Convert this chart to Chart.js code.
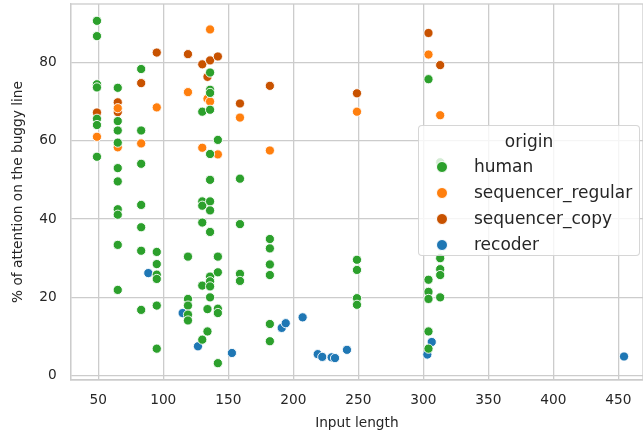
<!DOCTYPE html>
<html>
<head>
<meta charset="utf-8">
<script src="https://cdn.jsdelivr.net/npm/chart.js@4.4.1/dist/chart.umd.min.js"></script>
<style>
  html, body { margin: 0; padding: 0; background: #ffffff; }
  #wrap { position: relative; width: 643px; height: 436px; }
  #c { position: absolute; left: 0; top: 0; }
  #legend {
    position: absolute; left: 418px; top: 125px; width: 222px; height: 131px;
    box-sizing: border-box; border: 1px solid rgba(204,204,204,0.8); border-radius: 4px;
    background: rgba(255,255,255,0.8); font-family: "DejaVu Sans", sans-serif; color: #262626;
  }
  #legend .title { position: absolute; left: 0; width: 100%; top: 5px; text-align: center; font-size: 17px; line-height: 20px; }
  #legend .row { position: absolute; left: 0; height: 20px; font-size: 17px; line-height: 20px; }
  #legend .dot { position: absolute; left: 17px; top: 4px; width: 12px; height: 12px; border-radius: 50%; border: 0.8px solid #fff; box-sizing: border-box; }
  #legend .lab { position: absolute; left: 55px; top: -1px; white-space: nowrap; }
</style>
</head>
<body>
<div id="wrap">
  <canvas id="c" width="643" height="436"></canvas>
  <div id="legend"></div>
</div>
<script>
// ---- data ----
const seriesNames = ["human", "sequencer_regular", "sequencer_copy", "recoder"];
const seriesColors = ["#2ca02c", "#ff7f0e", "#c85200", "#1f77b4"];

const humanX = [49,49,49,49,49,49,49,
  65,65,65,65,65,65,65,65,65,65,
  83,83,83,83,83,83,83,
  95,95,95,95,95,95,
  119,119,119,119,119,
  130,130,130,130,130,130,
  134,134,
  136,136,136,136,136,136,136,136,136,136,136,136,136,
  142,142,142,142,142,142,
  159,159,159,159,
  182,182,182,182,182,182,
  249,249,249,249,
  304,304,304,304,304,304,
  313,313,313,313,313];
const humanY = [90.6,86.7,74.4,73.6,65.6,64.0,55.9,
  73.5,65.0,62.6,59.5,53.0,49.6,42.5,41.1,33.4,21.9,
  78.3,62.6,54.1,43.6,37.9,31.9,16.8,
  31.6,28.5,25.8,24.7,17.9,6.9,
  30.4,19.6,17.9,15.6,14.1,
  67.4,44.5,43.4,39.1,23.0,9.2,
  17.0,11.3,
  77.4,73.0,72.2,67.9,56.6,50.0,44.5,42.2,36.7,25.3,24.1,22.8,20.0,
  60.2,30.4,26.4,17.1,16.0,3.2,
  50.3,38.7,26.0,24.2,
  34.9,32.5,28.4,25.7,13.2,8.8,
  29.6,27.0,19.8,18.1,
  75.7,24.5,21.4,19.6,11.3,6.9,
  54.5,30.0,27.2,25.7,20.0];

const regularX = [49,65,65,83,95,119,130,134,136,136,142,159,182,249,304,313];
const regularY = [61.0,68.3,58.3,59.3,68.5,72.4,58.2,70.7,88.4,70.0,56.5,65.9,57.5,67.4,82.0,66.5];

const copyX = [49,65,65,83,95,119,130,134,136,142,159,182,249,304,313];
const copyY = [67.2,69.8,67.3,74.7,82.5,82.1,79.5,76.3,80.5,81.5,69.5,74.0,72.1,87.5,79.3];

const recoderX = [88.5,114.9,126.7,152.8,191.1,194.2,207.2,218.8,222.3,229.5,232.1,241.3,303.1,306.5,454.4];
const recoderY = [26.2,16.0,7.5,5.8,12.2,13.4,14.9,5.5,4.8,4.7,4.5,6.6,5.4,8.6,4.9];

const xTicks = [50,100,150,200,250,300,350,400,450];
const yTicks = [0,20,40,60,80];
const xTitle = "Input length";
const yTitle = "% of attention on the buggy line";
const legendTitle = "origin";

// ---- build chart ----
function pts(xs, ys) { return xs.map((x, i) => ({ x: x, y: ys[i] })); }
const seriesData = [pts(humanX, humanY), pts(regularX, regularY), pts(copyX, copyY), pts(recoderX, recoderY)];
const drawOrder = [0, 3, 1, 2];

const datasets = drawOrder.map(i => ({
  label: seriesNames[i],
  data: seriesData[i],
  backgroundColor: seriesColors[i],
  borderColor: "#ffffff",
  borderWidth: 0.9,
  pointRadius: 4.6,
  pointHoverRadius: 4.6,
  clip: false
}));

const GRID = "#cccccc";
const TEXT = "#262626";
const FONT = "DejaVu Sans";

const framePlugin = {
  id: "frame",
  beforeDatasetsDraw(chart) {
    const a = chart.chartArea, ctx = chart.ctx;
    ctx.save();
    ctx.strokeStyle = GRID;
    ctx.lineWidth = 1.3;
    ctx.strokeRect(a.left, a.top, a.right - a.left, a.bottom - a.top);
    ctx.restore();
  }
};

function zeroPad(s) { s.paddingTop = 0; s.paddingBottom = 0; s.paddingLeft = 0; s.paddingRight = 0; }

new Chart(document.getElementById("c"), {
  type: "scatter",
  data: { datasets: datasets },
  options: {
    responsive: false,
    animation: false,
    devicePixelRatio: 1,
    layout: { autoPadding: false, padding: { top: 4, right: 0, left: 0, bottom: 0 } },
    plugins: { legend: { display: false }, tooltip: { enabled: false } },
    scales: {
      x: {
        type: "linear",
        min: 28.8, max: 469,
        afterBuildTicks(s) { s.ticks = xTicks.map(v => ({ value: v })); },
        afterFit(s) { s.height = 56; zeroPad(s); },
        grid: { color: GRID, lineWidth: 1.3, drawTicks: false },
        border: { color: GRID, width: 1.3 },
        ticks: { color: TEXT, font: { family: FONT, size: 13.7 }, padding: 12, maxRotation: 0, autoSkip: false },
        title: { display: true, text: xTitle, color: TEXT, font: { family: FONT, size: 13.7 }, padding: { top: 0, bottom: 4 } }
      },
      y: {
        type: "linear",
        min: -1.1, max: 94.9,
        afterBuildTicks(s) { s.ticks = yTicks.map(v => ({ value: v })); },
        afterFit(s) { s.width = 70.7; zeroPad(s); },
        grid: { color: GRID, lineWidth: 1.3, drawTicks: false },
        border: { color: GRID, width: 1.3 },
        ticks: { color: TEXT, font: { family: FONT, size: 13.7 }, padding: 14, autoSkip: false },
        title: { display: true, text: yTitle, color: TEXT, font: { family: FONT, size: 13.7 }, padding: { top: 10, bottom: 0 } }
      }
    }
  },
  plugins: [framePlugin]
});

// ---- legend (HTML text) ----
const lg = document.getElementById("legend");
const t = document.createElement("div");
t.className = "title"; t.textContent = legendTitle; lg.appendChild(t);
seriesNames.forEach((n, i) => {
  const r = document.createElement("div");
  r.className = "row"; r.style.top = (31 + i * 26) + "px"; r.style.width = "100%";
  const d = document.createElement("div");
  d.className = "dot"; d.style.background = seriesColors[i];
  const l = document.createElement("div");
  l.className = "lab"; l.textContent = n;
  r.appendChild(d); r.appendChild(l); lg.appendChild(r);
});
</script>
</body>
</html>
